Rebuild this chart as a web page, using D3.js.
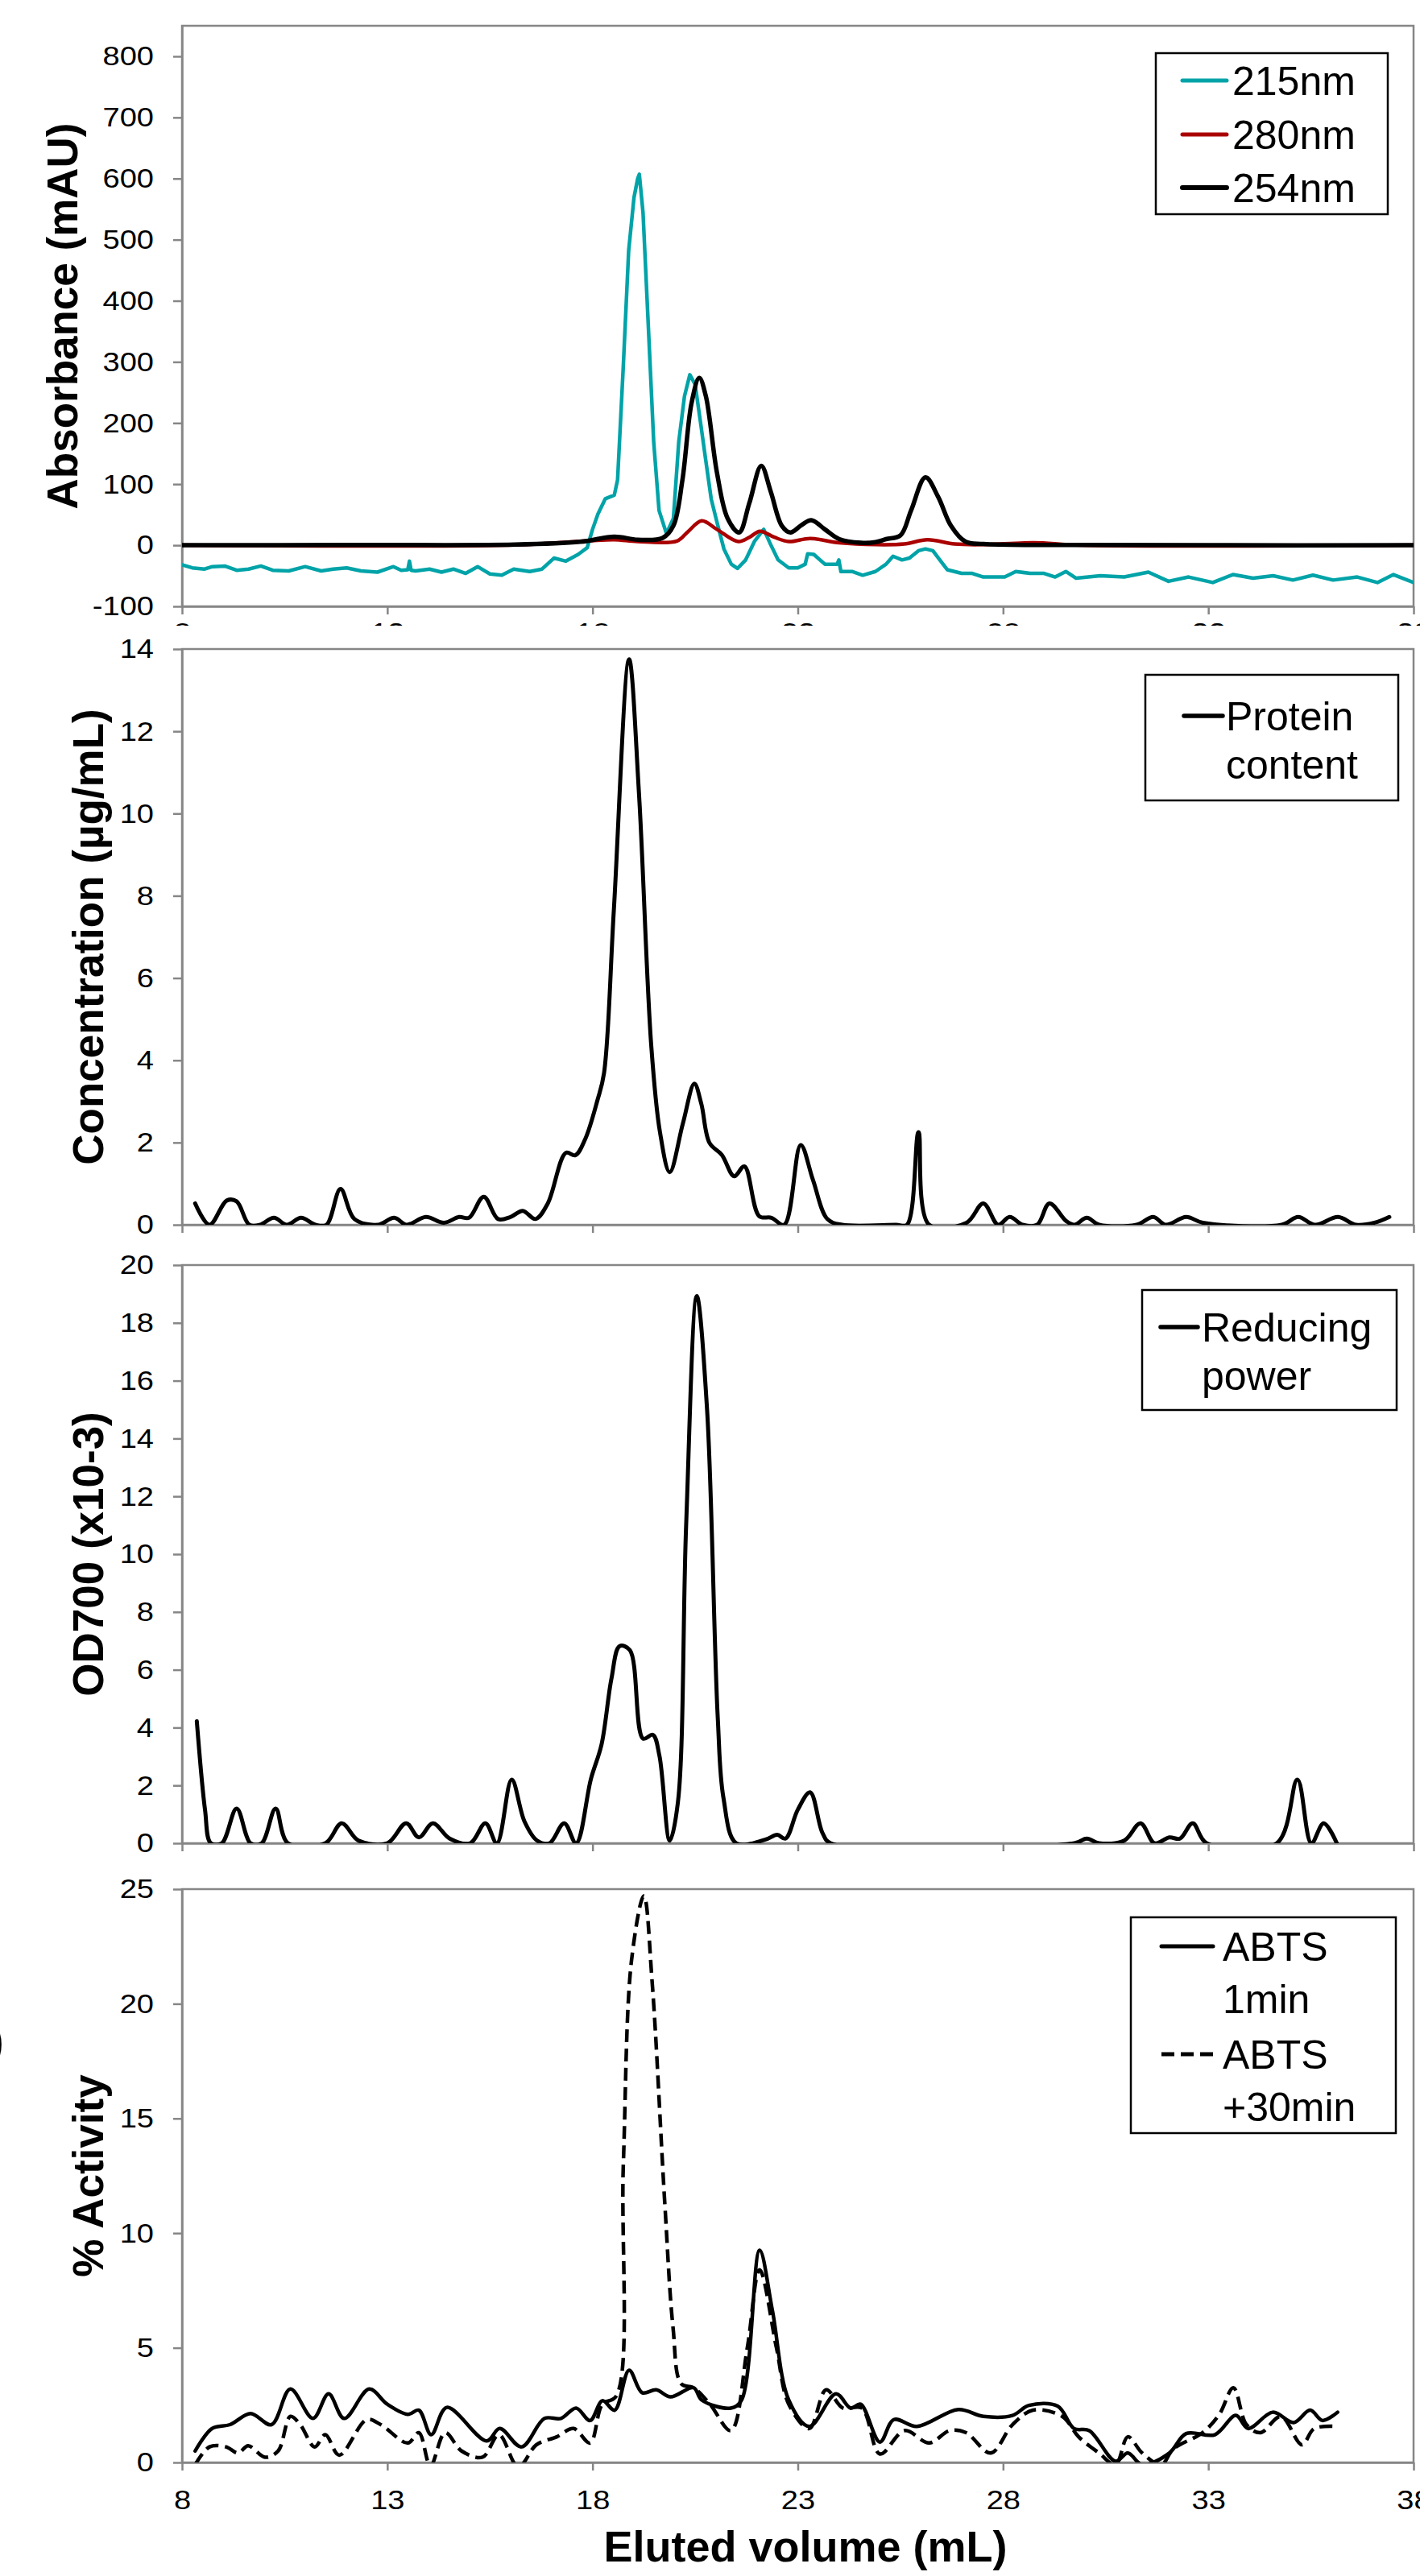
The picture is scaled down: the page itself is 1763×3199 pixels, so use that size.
<!DOCTYPE html>
<html>
<head>
<meta charset="utf-8">
<script src="https://cdn.jsdelivr.net/npm/d3@7"></script>
<style>
  body { margin: 0; background: #fff; }
</style>
</head>
<body>
<div id="chart"></div>
<script>
// taille de la page
const width = 1763;
const height = 3199;

// ticks
const xTicks = [8, 13, 18, 23, 28, 33, 38];
const absTicks = [-100, 0, 100, 200, 300, 400, 500, 600, 700, 800];
const protTicks = [0, 2, 4, 6, 8, 10, 12, 14];
const odTicks = [0, 2, 4, 6, 8, 10, 12, 14, 16, 18, 20];
const actTicks = [0, 5, 10, 15, 20, 25];

// absorbance (mAU), [volume mL, valeur]
const abs215 = [[8.0,-32],[8.25,-37],[8.55,-39],[8.74,-35],[9.04,-34],[9.33,-41],[9.62,-39],[9.92,-34],[10.21,-41],[10.6,-42],[11.0,-35],[11.39,-42],[11.68,-39],[12.01,-37],[12.36,-42],[12.76,-44],[13.15,-35],[13.34,-41],[13.5,-40],[13.54,-26],[13.58,-41],[13.69,-42],[14.03,-39],[14.32,-44],[14.61,-39],[14.91,-46],[15.2,-35],[15.5,-47],[15.79,-49],[16.08,-39],[16.47,-43],[16.77,-39],[17.06,-21],[17.35,-26],[17.65,-15],[17.87,-4],[18.0,26],[18.13,51],[18.31,76],[18.53,82],[18.61,107],[18.75,294],[18.88,482],[19.01,569],[19.1,600],[19.14,607],[19.23,544],[19.36,357],[19.49,169],[19.62,57],[19.8,19],[19.97,44],[20.1,169],[20.24,244],[20.37,279],[20.5,263],[20.63,201],[20.76,138],[20.89,76],[21.03,38],[21.2,-6],[21.38,-31],[21.53,-38],[21.73,-24],[21.95,7],[22.17,26],[22.34,1],[22.52,-24],[22.78,-37],[23.0,-37],[23.18,-31],[23.24,-14],[23.39,-15],[23.66,-31],[23.96,-31],[24.0,-24],[24.05,-43],[24.32,-43],[24.58,-49],[24.89,-43],[25.15,-31],[25.32,-18],[25.54,-24],[25.72,-21],[25.94,-9],[26.11,-6],[26.29,-9],[26.46,-24],[26.64,-40],[26.99,-46],[27.25,-46],[27.52,-52],[27.78,-52],[28.04,-52],[28.31,-43],[28.66,-46],[29.0,-46],[29.27,-52],[29.53,-43],[29.78,-54],[30.37,-50],[30.95,-52],[31.54,-44],[32.03,-59],[32.52,-52],[33.11,-61],[33.6,-48],[34.09,-54],[34.58,-50],[35.06,-57],[35.55,-49],[36.04,-57],[36.63,-52],[37.12,-61],[37.51,-48],[38.0,-61]];
const abs280 = [[8,0],[16.1,0.5],[17.87,7],[18.53,9],[19.1,6],[20.06,7],[20.32,22],[20.66,40],[21.03,26],[21.55,6],[21.82,13],[22.08,23],[22.43,13],[22.78,6],[23.3,11],[24.01,4],[24.89,1],[25.59,2],[26.16,9],[26.82,2],[27.5,1],[28.75,4],[29.9,0],[38,0]];
const abs254 = [[8,0],[12,0.5],[16.1,1],[17.7,5.6],[18.53,14],[19.1,9],[19.71,12],[19.97,32],[20.19,107],[20.41,232],[20.6,274],[20.76,244],[21.03,119],[21.29,44],[21.57,21],[21.82,69],[22.11,130],[22.34,88],[22.61,32],[22.82,21],[23.09,33],[23.33,41],[23.66,26],[24.01,10],[24.54,4],[24.89,5],[25.15,10],[25.5,16],[25.76,57],[26.11,111],[26.42,79],[26.73,32],[27.08,6],[27.52,2],[29.9,0.5],[33,0],[38,0]];

// teneur en protéines (µg/mL)
const protein = [[8.32,0.52],[8.67,0],[9.09,0.59],[9.33,0.57],[9.64,0],[9.9,0],[10.24,0.17],[10.55,0],[10.9,0.17],[11.25,0],[11.52,0],[11.86,0.87],[12.2,0.14],[12.77,0],[13.17,0.17],[13.47,0],[13.94,0.19],[14.38,0.05],[14.75,0.19],[14.99,0.17],[15.35,0.68],[15.7,0.14],[16.0,0.19],[16.3,0.34],[16.61,0.14],[16.91,0.52],[17.35,1.75],[17.58,1.69],[17.82,2.08],[18.12,3.03],[18.28,3.69],[18.52,7.67],[18.89,13.75],[19.13,10.51],[19.43,4.36],[19.64,2.27],[19.88,1.28],[20.2,2.46],[20.48,3.43],[20.65,2.94],[20.85,1.99],[21.15,1.7],[21.45,1.18],[21.7,1.42],[22.06,0.21],[22.36,0.17],[22.67,0],[23.07,1.94],[23.37,1.09],[23.72,0.14],[24.08,0],[25.39,0],[25.66,0],[25.94,2.25],[26.2,0],[27.11,0.05],[27.52,0.52],[27.88,0],[28.16,0.19],[28.48,0],[28.83,0],[29.13,0.52],[29.54,0.09],[29.74,0],[30.04,0.17],[30.34,0],[31.25,0],[31.66,0.19],[31.96,0],[32.46,0.19],[32.87,0.05],[34.79,0],[35.19,0.19],[35.6,0],[36.16,0.19],[36.6,0],[37.05,0.05],[37.41,0.19]];

// pouvoir réducteur OD700 (x10-3)
const reducing = [[8.36,4.22],[8.56,1.16],[8.7,0],[8.97,0],[9.33,1.2],[9.67,0],[9.94,0],[10.28,1.2],[10.58,0],[11.49,0],[11.89,0.69],[12.3,0.09],[13.0,0],[13.46,0.69],[13.77,0.2],[14.11,0.69],[14.52,0.16],[15.02,0],[15.39,0.69],[15.67,0],[16.03,2.2],[16.34,0.76],[16.65,0.09],[16.95,0],[17.31,0.69],[17.6,0],[17.96,2.22],[18.22,3.42],[18.46,5.69],[18.66,6.82],[18.91,6.68],[19.23,3.62],[19.47,3.75],[19.63,3.02],[19.88,0.09],[20.08,1.42],[20.28,11.0],[20.54,18.93],[20.79,15.0],[21.05,4.35],[21.19,1.56],[21.5,0],[22.2,0.12],[22.5,0.29],[22.7,0.16],[23.0,1.16],[23.3,1.76],[23.6,0.36],[23.8,0],[29.74,0],[30.04,0.16],[30.34,0],[30.95,0.09],[31.35,0.69],[31.69,0],[32.05,0.2],[32.31,0.16],[32.62,0.69],[32.96,0],[34.67,0],[35.17,2.2],[35.51,0],[35.81,0.69],[36.13,0]];

// % activité ABTS
const abts1 = [[8.32,0.5],[8.73,1.48],[9.17,1.65],[9.67,2.13],[10.18,1.65],[10.64,3.2],[11.19,1.92],[11.57,2.99],[11.95,1.92],[12.56,3.2],[13.0,2.54],[13.5,2.1],[13.77,2.28],[14.07,1.21],[14.45,2.4],[15.42,0.94],[15.74,1.48],[16.27,0.68],[16.83,1.92],[17.23,1.92],[17.6,2.37],[17.94,1.83],[18.24,2.69],[18.54,2.28],[18.89,4.02],[19.21,3.04],[19.55,3.17],[19.9,2.86],[20.46,3.26],[20.66,2.72],[21.37,2.37],[21.63,2.72],[22.07,9.25],[22.38,6.64],[22.78,2.72],[23.28,1.57],[23.93,2.99],[24.29,2.37],[24.53,2.54],[25.0,0.89],[25.34,1.87],[25.9,1.57],[26.91,2.31],[27.52,2.01],[28.23,2.05],[28.63,2.49],[29.33,2.46],[29.73,1.48],[30.1,1.39],[30.74,0.05],[31.04,0.41],[31.39,-0.1],[32.05,0.41],[32.46,1.26],[33.16,1.21],[33.67,2.05],[33.97,1.48],[34.57,2.19],[35.08,1.74],[35.48,2.28],[35.78,1.83],[36.15,2.19]];
const abts30 = [[8.32,-0.1],[8.67,0.68],[9.07,0.68],[9.37,0.41],[9.61,0.73],[10.02,0.23],[10.34,0.5],[10.64,2.01],[10.88,1.65],[11.23,0.68],[11.49,1.21],[11.83,0.32],[12.5,1.87],[12.84,1.65],[13.5,0.85],[13.77,1.3],[14.05,-0.15],[14.41,1.3],[14.81,0.5],[15.32,0.23],[15.72,1.21],[16.19,-0.2],[16.63,0.77],[17.13,1.12],[17.54,1.48],[17.94,0.85],[18.24,2.54],[18.58,2.9],[18.75,13.0],[18.95,21.9],[19.25,24.7],[19.45,21.0],[19.76,11.3],[19.96,5.9],[20.16,3.43],[20.46,3.26],[20.86,2.54],[21.37,1.39],[21.77,5.0],[22.07,8.4],[22.48,5.0],[22.78,2.54],[23.28,1.48],[23.69,3.17],[24.1,2.37],[24.56,2.37],[25.0,0.37],[25.6,1.39],[26.2,0.85],[26.7,1.39],[27.1,1.3],[27.7,0.41],[28.23,1.65],[28.73,2.28],[29.44,2.01],[29.84,1.12],[30.34,0.41],[30.74,-0.1],[31.04,1.12],[31.39,0.41],[31.85,-0.1],[32.15,0.59],[32.86,1.3],[33.27,2.1],[33.61,3.26],[33.93,1.65],[34.27,1.3],[34.77,2.01],[35.28,0.77],[35.58,1.48],[36.15,1.57]];

const font = "'Liberation Sans', Arial, sans-serif";
const grey = "#868686";
const smooth = d3.curveCatmullRom.alpha(0.5);
const stretch = 1.12; // les chiffres des axes sont un peu élargis

const svg = d3.select("#chart").append("svg")
    .attr("width", width)
    .attr("height", height)
    .style("display", "block");

// échelle commune des volumes
const x = d3.scaleLinear().domain([8, 38]).range([226, 1755]);

const panels = [
  {
    id: "abs", domain: [-100, 850], range: [753, 32], ticks: absTicks,
    title: "Absorbance (mAU)", titleX: 96, xLabels: true, xPad: 10,
    series: [
      {data: abs215, color: "#00A3A8", width: 4.5, curve: d3.curveLinear},
      {data: abs280, color: "#AA0000", width: 4.5, curve: smooth},
      {data: abs254, color: "#000", width: 5.5, curve: smooth}
    ],
    legend: {box: [1435, 66, 1723, 266], line: [1468, 1523], textX: 1530,
      rows: [{y: 100, text: "215nm", s: 0}, {y: 167, text: "280nm", s: 1}, {y: 233, text: "254nm", s: 2}]}
  },
  {
    id: "prot", domain: [0, 14], range: [1521, 806], ticks: protTicks, cover: 777,
    title: "Concentration (µg/mL)", titleX: 128,
    series: [{data: protein, color: "#000", width: 5, curve: smooth}],
    legend: {box: [1422, 838, 1736, 994], line: [1470, 1518], textX: 1522,
      rows: [{y: 889, text: "Protein", s: 0}, {y: 949, text: "content"}]}
  },
  {
    id: "od", domain: [0, 20], range: [2289, 1571], ticks: odTicks,
    title: "OD700 (x10-3)", titleX: 128,
    series: [{data: reducing, color: "#000", width: 5, curve: smooth}],
    legend: {box: [1418, 1602, 1734, 1751], line: [1441, 1487], textX: 1492,
      rows: [{y: 1648, text: "Reducing", s: 0}, {y: 1708, text: "power"}]}
  },
  {
    id: "act", domain: [0, 25], range: [3058, 2346], ticks: actTicks,
    title: "% Activity", titleX: 128, xLabels: true, xPad: 24,
    series: [
      {data: abts1, color: "#000", width: 4.5, curve: smooth},
      {data: abts30, color: "#000", width: 4.5, curve: smooth, dash: "16,8"}
    ],
    legend: {box: [1404, 2381, 1733, 2649], line: [1442, 1506], textX: 1518,
      rows: [{y: 2417, text: "ABTS", s: 0}, {y: 2482, text: "1min"},
             {y: 2551, text: "ABTS", s: 1}, {y: 2616, text: "+30min"}]}
  }
];

panels.forEach(function (p) {
    const y = d3.scaleLinear().domain(p.domain).range(p.range);
    const g = svg.append("g").attr("class", "panel-" + p.id);

    // fond blanc qui masque les étiquettes du graphe du dessus
    if (p.cover) {
        g.append("rect")
            .attr("x", 0).attr("y", p.cover)
            .attr("width", width).attr("height", p.range[0] - p.cover)
            .attr("fill", "#fff");
    }

    // cadre de la zone de tracé
    g.append("rect")
        .attr("x", x(8)).attr("y", p.range[1])
        .attr("width", x(38) - x(8)).attr("height", p.range[0] - p.range[1])
        .attr("fill", "none").attr("stroke", grey).attr("stroke-width", 2.5);

    // axe des y
    const yAxis = g.append("g")
        .attr("transform", `translate(${x(8)},0)`)
        .call(d3.axisLeft(y).tickValues(p.ticks).tickSize(11).tickPadding(24).tickSizeOuter(0)
            .tickFormat(d => String(d)));

    // axe des x
    const xAxis = g.append("g")
        .attr("transform", `translate(0,${p.range[0]})`)
        .call(d3.axisBottom(x).tickValues(xTicks).tickSize(10).tickPadding(p.xPad || 24).tickSizeOuter(0)
            .tickFormat(p.xLabels ? d => String(d) : () => ""));

    [yAxis, xAxis].forEach(function (a) {
        a.attr("font-family", font).attr("font-size", 34);
        a.select(".domain").attr("stroke", grey).attr("stroke-width", 2.5);
        a.selectAll(".tick line").attr("stroke", grey).attr("stroke-width", 2.5);
        a.selectAll(".tick text")
            .attr("fill", "#000")
            .attr("x", function () { return (+d3.select(this).attr("x") || 0) / stretch; })
            .attr("transform", `scale(${stretch},1)`);
    });

    // découpage des courbes à la zone de tracé
    g.append("clipPath").attr("id", "clip-" + p.id)
        .append("rect")
        .attr("x", x(8)).attr("y", p.range[1])
        .attr("width", x(38) - x(8)).attr("height", p.range[0] - p.range[1]);

    const lines = g.append("g").attr("clip-path", `url(#clip-${p.id})`);
    p.series.forEach(function (s) {
        const line = d3.line()
            .x(d => x(d[0]))
            .y(d => y(d[1]))
            .curve(s.curve);
        lines.append("path")
            .datum(s.data)
            .attr("d", line)
            .attr("fill", "none")
            .attr("stroke", s.color)
            .attr("stroke-width", s.width)
            .attr("stroke-linejoin", "round")
            .attr("stroke-linecap", s.dash ? "butt" : "round")
            .attr("stroke-dasharray", s.dash || null);
    });

    // titre de l'axe y
    g.append("text")
        .attr("transform", `translate(${p.titleX},${(p.range[0] + p.range[1]) / 2}) rotate(-90)`)
        .attr("text-anchor", "middle")
        .attr("font-family", font)
        .attr("font-weight", "bold")
        .attr("font-size", 53)
        .text(p.title);

    // légende
    const L = p.legend;
    const lg = g.append("g");
    lg.append("rect")
        .attr("x", L.box[0]).attr("y", L.box[1])
        .attr("width", L.box[2] - L.box[0]).attr("height", L.box[3] - L.box[1])
        .attr("fill", "#fff").attr("stroke", "#000").attr("stroke-width", 2.5);
    L.rows.forEach(function (r) {
        if (r.s !== undefined) {
            const s = p.series[r.s];
            lg.append("line")
                .attr("x1", L.line[0]).attr("x2", L.line[1])
                .attr("y1", r.y).attr("y2", r.y)
                .attr("stroke", s.color)
                .attr("stroke-width", s.width + 0.5)
                .attr("stroke-linecap", s.dash ? "butt" : "round")
                .attr("stroke-dasharray", s.dash || null);
        }
        lg.append("text")
            .attr("x", L.textX).attr("y", r.y + 18)
            .attr("font-family", font)
            .attr("font-size", 50)
            .text(r.text);
    });
});

// titre de l'axe x
svg.append("text")
    .attr("x", 1000).attr("y", 3181)
    .attr("text-anchor", "middle")
    .attr("font-family", font)
    .attr("font-weight", "bold")
    .attr("font-size", 54)
    .text("Eluted volume (mL)");

// fragment de lettre coupé au bord gauche
svg.append("text")
    .attr("x", -14).attr("y", 2553)
    .attr("font-family", font)
    .attr("font-weight", "bold")
    .attr("font-size", 56)
    .text(")");
</script>
</body>
</html>
